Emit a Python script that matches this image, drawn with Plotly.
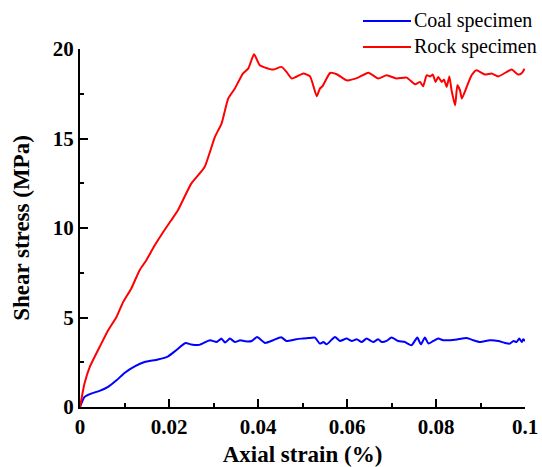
import plotly.graph_objects as go

# Axial strain (%) / shear stress (MPa) for the rock specimen
rock_strain = [0.0000, 0.0010, 0.0022, 0.0044, 0.0063, 0.0082, 0.0097, 0.0115, 0.0134, 0.0149,
               0.0168, 0.0187, 0.0205, 0.0220, 0.0250, 0.0280, 0.0303, 0.0318, 0.0333, 0.0348,
               0.0366, 0.0378, 0.0391, 0.0404, 0.0416, 0.0434, 0.0453, 0.0464, 0.0476, 0.0502,
               0.0517, 0.0532, 0.0539, 0.0545, 0.0562, 0.0577, 0.0599, 0.0625, 0.0648, 0.0670,
               0.0689, 0.0711, 0.0734, 0.0753, 0.0764, 0.0771, 0.0779, 0.0787, 0.0793, 0.0799,
               0.0805, 0.0813, 0.0818, 0.0824, 0.0830, 0.0835, 0.0843, 0.0848, 0.0854, 0.0858,
               0.0869, 0.0880, 0.0891, 0.0910, 0.0925, 0.0940, 0.0959, 0.0970, 0.0985, 0.0993,
               0.0999]
rock_stress = [0.0, 1.30, 2.24, 3.35, 4.28, 5.03, 5.87, 6.61, 7.64, 8.20,
               9.03, 9.78, 10.43, 10.99, 12.48, 13.41, 15.08, 15.83, 17.23, 17.79,
               18.63, 18.90, 19.70, 19.09, 18.96, 18.85, 19.00, 18.72, 18.35, 18.63,
               18.47, 17.36, 17.79, 17.92, 18.66, 18.59, 18.25, 18.40, 18.68, 18.35,
               18.53, 18.35, 18.40, 18.03, 18.16, 17.92, 18.53, 18.47, 18.57, 18.16,
               18.44, 18.16, 18.29, 17.88, 18.47, 17.69, 16.85, 17.97, 17.69, 17.23,
               17.88, 18.53, 18.81, 18.57, 18.63, 18.47, 18.72, 18.85, 18.57, 18.66,
               18.90]

# Axial strain (%) / shear stress (MPa) for the coal specimen
coal_strain = [0.0000, 0.0010, 0.0025, 0.0044, 0.0063, 0.0082, 0.0100, 0.0123, 0.0145, 0.0175,
               0.0198, 0.0216, 0.0237, 0.0250, 0.0268, 0.0292, 0.0307, 0.0318, 0.0326, 0.0337,
               0.0348, 0.0360, 0.0371, 0.0386, 0.0398, 0.0416, 0.0434, 0.0452, 0.0464, 0.0483,
               0.0498, 0.0513, 0.0528, 0.0539, 0.0547, 0.0554, 0.0573, 0.0584, 0.0599, 0.0611,
               0.0622, 0.0633, 0.0644, 0.0659, 0.0670, 0.0678, 0.0689, 0.0700, 0.0715, 0.0730,
               0.0745, 0.0758, 0.0766, 0.0775, 0.0783, 0.0794, 0.0805, 0.0816, 0.0831, 0.0847,
               0.0869, 0.0884, 0.0899, 0.0921, 0.0940, 0.0955, 0.0966, 0.0974, 0.0981, 0.0987,
               0.0993, 0.0996, 0.1000]
coal_stress = [0.0, 0.56, 0.75, 0.90, 1.12, 1.49, 1.90, 2.27, 2.51, 2.65,
               2.83, 3.17, 3.58, 3.49, 3.47, 3.73, 3.63, 3.82, 3.60, 3.82,
               3.63, 3.73, 3.67, 3.69, 3.91, 3.58, 3.73, 3.90, 3.69, 3.77,
               3.82, 3.85, 3.88, 3.54, 3.63, 3.50, 3.91, 3.69, 3.82, 3.69,
               3.78, 3.63, 3.82, 3.63, 3.78, 3.63, 3.69, 3.88, 3.69, 3.63,
               3.45, 3.88, 3.50, 3.88, 3.54, 3.69, 3.82, 3.73, 3.73, 3.77,
               3.85, 3.73, 3.63, 3.73, 3.69, 3.58, 3.54, 3.69, 3.63, 3.82,
               3.63, 3.78, 3.69]

x_ticks = [0, 0.02, 0.04, 0.06, 0.08, 0.1]
x_labels = ["0", "0.02", "0.04", "0.06", "0.08", "0.1"]
y_ticks = [0, 5, 10, 15, 20]

series_names = ["Coal specimen", "Rock specimen"]
series_colors = ["#0000ff", "#ff0000"]

serif = "Liberation Serif"
W, H = 542, 467
M_L, M_R, M_T, M_B = 80, 17, 49, 60

fig = go.Figure()
for xs, ys, name, color in [(coal_strain, coal_stress, series_names[0], series_colors[0]),
                            (rock_strain, rock_stress, series_names[1], series_colors[1])]:
    fig.add_trace(go.Scatter(x=xs, y=ys, mode="lines", name=name, showlegend=False,
                             line=dict(color=color, width=2, shape="spline", smoothing=0.5)))

axis_common = dict(
    showline=True, linecolor="black", linewidth=2,
    ticks="inside", ticklen=8, tickwidth=2, tickcolor="black",
    showgrid=False, zeroline=False, mirror=False,
    tickfont=dict(family=serif, size=21, color="black", weight="bold"),
)

fig.update_xaxes(
    range=[0, 0.1], tickvals=x_ticks, ticktext=x_labels,
    minor=dict(tickvals=[0.01, 0.03, 0.05, 0.07, 0.09], ticks="inside", ticklen=4,
               tickwidth=2, tickcolor="black"),
    title=dict(text="Axial strain (%)", standoff=9,
               font=dict(family=serif, size=23, color="black", weight="bold")),
    **axis_common,
)
fig.update_yaxes(
    range=[0, 20], tickvals=y_ticks,
    minor=dict(tickvals=[2.5, 7.5, 12.5, 17.5], ticks="inside", ticklen=4,
               tickwidth=2, tickcolor="black"),
    title=dict(text="Shear stress (MPa)", standoff=17,
               font=dict(family=serif, size=23, color="black", weight="bold")),
    **axis_common,
)

# Legend drawn in paper pixels above the plot area (top-right corner)
def px_x(p):
    return (p - M_L) / (W - M_L - M_R)

def px_y(p):
    return (H - M_B - p) / (H - M_T - M_B)

shapes, annotations = [], []
for i, (name, color) in enumerate(zip(series_names, series_colors)):
    yy = px_y(21 + 26 * i)
    shapes.append(dict(type="line", xref="paper", yref="paper",
                       x0=px_x(363), x1=px_x(411), y0=yy, y1=yy,
                       line=dict(color=color, width=2)))
    annotations.append(dict(xref="paper", yref="paper", x=px_x(412), y=yy,
                            xanchor="left", yanchor="middle", showarrow=False,
                            text=name, font=dict(family=serif, size=20, color="black")))

fig.update_layout(
    width=W, height=H,
    margin=dict(l=M_L, r=M_R, t=M_T, b=M_B, autoexpand=False),
    plot_bgcolor="white", paper_bgcolor="white",
    showlegend=False,
    shapes=shapes, annotations=annotations,
)

fig.write_html("out.html")
